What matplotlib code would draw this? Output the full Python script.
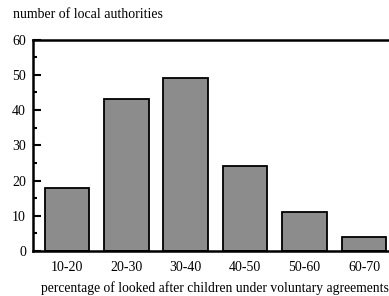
import matplotlib
matplotlib.use("Agg")
import matplotlib.pyplot as plt
from matplotlib.ticker import MultipleLocator

categories = ["10-20", "20-30", "30-40", "40-50", "50-60", "60-70"]
values = [18, 43, 49, 24, 11, 4]

plt.rcParams['font.family'] = ['Liberation Serif', 'DejaVu Serif']

fig = plt.figure(figsize=(3.89, 2.96), dpi=100)
ax = fig.add_axes([33/389, 1-251/296, 1-33/389, (251-39.5)/296])

x = list(range(len(categories)))
ax.bar(x, values, width=0.75, color="#8c8c8c", edgecolor="black", linewidth=1.3, zorder=2)

ax.set_ylim(0, 60)
ax.set_xlim(-0.57, 5.42)
ax.yaxis.set_major_locator(MultipleLocator(10))
ax.yaxis.set_minor_locator(MultipleLocator(5))
ax.set_xticks(x)
ax.set_xticklabels(categories)
ax.tick_params(axis='y', which='major', direction='in', length=6, width=1.5, labelsize=10, pad=5)
ax.tick_params(axis='y', which='minor', direction='in', length=3, width=1.5)
ax.tick_params(axis='x', which='major', direction='in', length=5, width=1.2, labelsize=10, pad=7)

for s in ['left', 'top', 'bottom']:
    ax.spines[s].set_linewidth(1.8)
ax.spines['right'].set_visible(False)

fig.text(13/389, 1-15/296, "number of local authorities", fontsize=10, ha='left', va='center')
fig.text(214.5/389, 1-288/296, "percentage of looked after children under voluntary agreements",
         fontsize=9.85, ha='center', va='center')

fig.savefig("out.png", dpi=100)
